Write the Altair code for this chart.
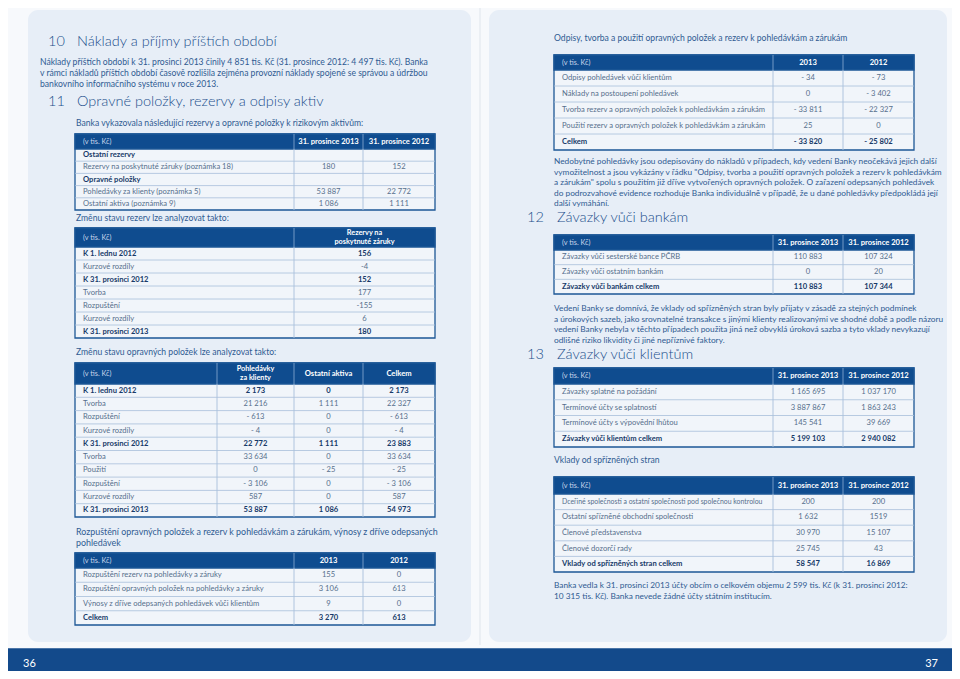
import altair as alt
import pandas as pd

FONT = "Lato"

# ---------------- colours ----------------
PAGE_BG = "#f7f9fc"
PANEL = "#e7eef7"
BODY = "#f1f5fa"
HEAD = "#0f4c8f"
BORDER = "#1d5796"
GRID = "#a8bfdb"
TXT = "#566f8c"
BOLDTXT = "#173a69"
PARA = "#2f5b92"
HEADING = "#1c4e8c"

# ---------------- data (text + numbers) ----------------
h10_num, h10_title = "10", "Náklady a příjmy příštích období"
h11_num, h11_title = "11", "Opravné položky, rezervy a odpisy aktiv"
h12_num, h12_title = "12", "Závazky vůči bankám"
h13_num, h13_title = "13", "Závazky vůči klientům"

para_10 = [
    "Náklady příštích období k 31. prosinci 2013 činily 4 851 tis. Kč (31. prosince 2012: 4 497 tis. Kč). Banka",
    "v rámci nákladů příštích období časově rozlišila zejména provozní náklady spojené se správou a údržbou",
    "bankovního informačního systému v roce 2013.",
]
intro_11 = "Banka vykazovala následující rezervy a opravné položky k rizikovým aktivům:"
intro_t2 = "Změnu stavu rezerv lze analyzovat takto:"
intro_t3 = "Změnu stavu opravných položek lze analyzovat takto:"
intro_t4 = [
    "Rozpuštění opravných položek a rezerv k pohledávkám a zárukám, výnosy z dříve odepsaných",
    "pohledávek",
]
intro_t5 = "Odpisy, tvorba a použití opravných položek a rezerv k pohledávkám a zárukám"
para_t5 = [
    "Nedobytné pohledávky jsou odepisovány do nákladů v případech, kdy vedení Banky neočekává jejich další",
    "vymožitelnost a jsou vykázány v řádku \"Odpisy, tvorba a použití opravných položek a rezerv k pohledávkám",
    "a zárukám\" spolu s použitím již dříve vytvořených opravných položek. O zařazení odepsaných pohledávek",
    "do podrozvahové evidence rozhoduje Banka individuálně v případě, že u dané pohledávky předpokládá její",
    "další vymáhání.",
]
para_t6 = [
    "Vedení Banky se domnívá, že vklady od spřízněných stran byly přijaty v zásadě za stejných podmínek",
    "a úrokových sazeb, jako srovnatelné transakce s jinými klienty realizovanými ve shodné době a podle názoru",
    "vedení Banky nebyla v těchto případech použita jiná než obvyklá úroková sazba a tyto vklady nevykazují",
    "odlišné riziko likvidity či jiné nepříznivé faktory.",
]
intro_t8 = "Vklady od spřízněných stran"
para_t8 = [
    "Banka vedla k 31. prosinci 2013 účty obcím o celkovém objemu 2 599 tis. Kč (k 31. prosinci 2012:",
    "10 315 tis. Kč). Banka nevede žádné účty státním institucím.",
]
page_numbers = ["36", "37"]

t1_head = ["(v tis. Kč)", "31. prosince 2013", "31. prosince 2012"]
t1_labels = ["Ostatní rezervy", "Rezervy na poskytnuté záruky (poznámka 18)", "Opravné položky",
             "Pohledávky za klienty (poznámka 5)", "Ostatní aktiva (poznámka 9)"]
t1_2013 = ["", "180", "", "53 887", "1 086"]
t1_2012 = ["", "152", "", "22 772", "1 111"]
t1_bold = [1, 0, 1, 0, 0]

t2_head = ["(v tis. Kč)", "Rezervy na\nposkytnuté záruky"]
t2_labels = ["K 1. lednu 2012", "Kurzové rozdíly", "K 31. prosinci 2012", "Tvorba", "Rozpuštění",
             "Kurzové rozdíly", "K 31. prosinci 2013"]
t2_values = ["156", "-4", "152", "177", "-155", "6", "180"]
t2_bold = [1, 0, 1, 0, 0, 0, 1]

t3_head = ["(v tis. Kč)", "Pohledávky\nza klienty", "Ostatní aktiva", "Celkem"]
t3_labels = ["K 1. lednu 2012", "Tvorba", "Rozpuštění", "Kurzové rozdíly", "K 31. prosinci 2012",
             "Tvorba", "Použití", "Rozpuštění", "Kurzové rozdíly", "K 31. prosinci 2013"]
t3_klienti = ["2 173", "21 216", "- 613", "- 4", "22 772", "33 634", "0", "- 3 106", "587", "53 887"]
t3_ostatni = ["0", "1 111", "0", "0", "1 111", "0", "- 25", "0", "0", "1 086"]
t3_celkem = ["2 173", "22 327", "- 613", "- 4", "23 883", "33 634", "- 25", "- 3 106", "587", "54 973"]
t3_bold = [1, 0, 0, 0, 1, 0, 0, 0, 0, 1]

t4_head = ["(v tis. Kč)", "2013", "2012"]
t4_labels = ["Rozpuštění rezerv na pohledávky a záruky",
             "Rozpuštění opravných položek na pohledávky a záruky",
             "Výnosy z dříve odepsaných pohledávek vůči klientům", "Celkem"]
t4_2013 = ["155", "3 106", "9", "3 270"]
t4_2012 = ["0", "613", "0", "613"]
t4_bold = [0, 0, 0, 1]

t5_head = ["(v tis. Kč)", "2013", "2012"]
t5_labels = ["Odpisy pohledávek vůči klientům", "Náklady na postoupení pohledávek",
             "Tvorba rezerv a opravných položek k pohledávkám a zárukám",
             "Použití rezerv a opravných položek k pohledávkám a zárukám", "Celkem"]
t5_2013 = ["- 34", "0", "- 33 811", "25", "- 33 820"]
t5_2012 = ["- 73", "- 3 402", "- 22 327", "0", "- 25 802"]
t5_bold = [0, 0, 0, 0, 1]

t6_head = ["(v tis. Kč)", "31. prosince 2013", "31. prosince 2012"]
t6_labels = ["Závazky vůči sesterské bance PČRB", "Závazky vůči ostatním bankám",
             "Závazky vůči bankám celkem"]
t6_2013 = ["110 883", "0", "110 883"]
t6_2012 = ["107 324", "20", "107 344"]
t6_bold = [0, 0, 1]

t7_head = ["(v tis. Kč)", "31. prosince 2013", "31. prosince 2012"]
t7_labels = ["Závazky splatné na požádání", "Termínové účty se splatností",
             "Termínové účty s výpovědní lhůtou", "Závazky vůči klientům celkem"]
t7_2013 = ["1 165 695", "3 887 867", "145 541", "5 199 103"]
t7_2012 = ["1 037 170", "1 863 243", "39 669", "2 940 082"]
t7_bold = [0, 0, 0, 1]

t8_head = ["(v tis. Kč)", "31. prosince 2013", "31. prosince 2012"]
t8_labels = ["Dceřiné společnosti a ostatní společnosti pod společnou kontrolou",
             "Ostatní spřízněné obchodní společnosti", "Členové představenstva",
             "Členové dozorčí rady", "Vklady od spřízněných stran celkem"]
t8_2013 = ["200", "1 632", "30 970", "25 745", "58 547"]
t8_2012 = ["200", "1519", "15 107", "43", "16 869"]
t8_bold = [0, 0, 0, 0, 1]

# ---------------- layout ----------------
L_EDGES3 = [75, 294, 363, 435]
R_EDGES3 = [554, 773, 843, 914]

rects, panels, rules, texts, heads = [], [], [], [], []


def txt(x, y, t, s=8.6, c=PARA, wt="normal", al="left"):
    texts.append(dict(x=x, y=y, t=t, s=s, c=c, wt=wt, al=al))


def table(edges, top, hbot, bottom, head, columns, bold, size=7.6, label_sizes=None):
    left, right = edges[0], edges[-1]
    rects.append(dict(x=left, x2=right, y=top, y2=bottom, f=BODY, k=BORDER))
    rects.append(dict(x=left, x2=right, y=top, y2=hbot, f=HEAD, k=BORDER))
    n = len(columns[0])
    h = (bottom - hbot) / n
    for i in range(1, n):
        yy = hbot + i * h
        rules.append(dict(x=left, x2=right, y=yy, y2=yy, c=GRID, w=0.8))
    for e in edges[1:-1]:
        rules.append(dict(x=e, x2=e, y=top, y2=hbot, c="#7ea1cc", w=0.9))
        rules.append(dict(x=e, x2=e, y=hbot, y2=bottom, c=GRID, w=0.9))
    hy = (top + hbot) / 2
    txt(left + 8, hy, head[0], 7.3, "#c6d6ea", "normal", "left")
    for j, lab in enumerate(head[1:]):
        cx = (edges[j + 1] + edges[j + 2]) / 2
        parts = lab.split("\n")
        for k, part in enumerate(parts):
            off = (k - (len(parts) - 1) / 2) * 8.4
            txt(cx, hy + off, part, 7.3 if len(parts) > 1 else 7.6, "#ffffff", "bold", "center")
    for i in range(n):
        cy = hbot + (i + 0.5) * h
        b = bold[i]
        col = BOLDTXT if b else TXT
        wt = "bold" if b else "normal"
        ls = label_sizes[i] if label_sizes else size
        txt(left + 8, cy, columns[0][i], ls, col, wt, "left")
        for j, vals in enumerate(columns[1:]):
            cx = (edges[j + 1] + edges[j + 2]) / 2
            txt(cx, cy, vals[i], size, col, wt, "center")


# background panels and footer
panels.append(dict(x=28, x2=471, y=10, y2=642, f=PANEL))
panels.append(dict(x=489, x2=947, y=10, y2=642, f=PANEL))
rects.append(dict(x=0, x2=960, y=649, y2=679, f="#134a8b", k="#134a8b"))
rules.append(dict(x=480, x2=480, y=0, y2=645, c="#dfe5ec", w=1.0))
txt(23, 664, page_numbers[0], 11, "#ffffff", "normal", "left")
txt(938, 664, page_numbers[1], 11, "#ffffff", "normal", "right")

# left page
heads.append(dict(x=48, y=42, t=h10_num))
heads.append(dict(x=77, y=42, t=h10_title))
for i, line in enumerate(para_10):
    txt(40, 62 + i * 11, line)
heads.append(dict(x=48, y=102, t=h11_num))
heads.append(dict(x=77, y=102, t=h11_title))
txt(76, 123, intro_11)
table(L_EDGES3, 134, 149, 210, t1_head, [t1_labels, t1_2013, t1_2012], t1_bold)
txt(76, 218, intro_t2)
table([75, 294, 435], 228, 247, 338, t2_head, [t2_labels, t2_values], t2_bold)
txt(76, 352, intro_t3)
table([75, 217, 294, 363, 435], 363, 384, 517, t3_head,
      [t3_labels, t3_klienti, t3_ostatni, t3_celkem], t3_bold)
for i, line in enumerate(intro_t4):
    txt(76, 532 + i * 11, line, 8.9)
table(L_EDGES3, 553, 568, 625, t4_head, [t4_labels, t4_2013, t4_2012], t4_bold)

# right page
txt(554, 38, intro_t5)
table(R_EDGES3, 55, 70, 150, t5_head, [t5_labels, t5_2013, t5_2012], t5_bold)
for i, line in enumerate(para_t5):
    txt(554, 162 + i * 10.5, line, 8.3)
heads.append(dict(x=527, y=218, t=h12_num))
heads.append(dict(x=557, y=218, t=h12_title))
table(R_EDGES3, 235, 250, 294, t6_head, [t6_labels, t6_2013, t6_2012], t6_bold)
for i, line in enumerate(para_t6):
    txt(554, 309 + i * 10.5, line, 8.3)
heads.append(dict(x=527, y=355, t=h13_num))
heads.append(dict(x=557, y=355, t=h13_title))
table(R_EDGES3, 368, 384, 447, t7_head, [t7_labels, t7_2013, t7_2012], t7_bold)
txt(554, 460, intro_t8)
table(R_EDGES3, 477, 494, 572, t8_head, [t8_labels, t8_2013, t8_2012], t8_bold,
      label_sizes=[6.9, 7.6, 7.6, 7.6, 7.6])
for i, line in enumerate(para_t8):
    txt(554, 586 + i * 10.5, line, 8.3)

# ---------------- chart ----------------
XS = alt.Scale(domain=[8, 952], nice=False, zero=False)
YS = alt.Scale(domain=[8, 671], reverse=True, nice=False, zero=False)

panel_layer = alt.Chart(pd.DataFrame(panels)).mark_rect(cornerRadius=10).encode(
    x=alt.X("x:Q", scale=XS, axis=None), x2="x2:Q",
    y=alt.Y("y:Q", scale=YS, axis=None), y2="y2:Q",
    fill=alt.Fill("f:N", scale=None),
)
rect_layer = alt.Chart(pd.DataFrame(rects)).mark_rect(strokeWidth=1.3).encode(
    x=alt.X("x:Q", scale=XS, axis=None), x2="x2:Q",
    y=alt.Y("y:Q", scale=YS, axis=None), y2="y2:Q",
    fill=alt.Fill("f:N", scale=None),
    stroke=alt.Stroke("k:N", scale=None),
)
rule_layer = alt.Chart(pd.DataFrame(rules)).mark_rule().encode(
    x=alt.X("x:Q", scale=XS, axis=None), x2="x2:Q",
    y=alt.Y("y:Q", scale=YS, axis=None), y2="y2:Q",
    color=alt.Color("c:N", scale=None),
    strokeWidth=alt.StrokeWidth("w:Q", scale=None),
)

tdf = pd.DataFrame(texts)
tdf = tdf[tdf["t"] != ""]
text_layers = []
for wt in ["normal", "bold"]:
    for al in ["left", "center", "right"]:
        sub = tdf[(tdf["wt"] == wt) & (tdf["al"] == al)]
        if len(sub) == 0:
            continue
        text_layers.append(
            alt.Chart(sub).mark_text(font=FONT, fontWeight=wt, align=al, baseline="middle").encode(
                x=alt.X("x:Q", scale=XS, axis=None),
                y=alt.Y("y:Q", scale=YS, axis=None),
                text="t:N",
                size=alt.Size("s:Q", scale=None),
                color=alt.Color("c:N", scale=None),
            )
        )

head_layer = alt.Chart(pd.DataFrame(heads)).mark_text(
    font=FONT, fontWeight=300, align="left", baseline="middle", fontSize=14.5, color=HEADING
).encode(
    x=alt.X("x:Q", scale=XS, axis=None),
    y=alt.Y("y:Q", scale=YS, axis=None),
    text="t:N",
)

chart = alt.layer(panel_layer, rect_layer, rule_layer, head_layer, *text_layers).properties(
    width=944, height=663, padding=0, autosize="none", background=PAGE_BG
).configure_view(stroke=None)

chart.save("out.html", embed_options={"renderer": "svg", "actions": False})
